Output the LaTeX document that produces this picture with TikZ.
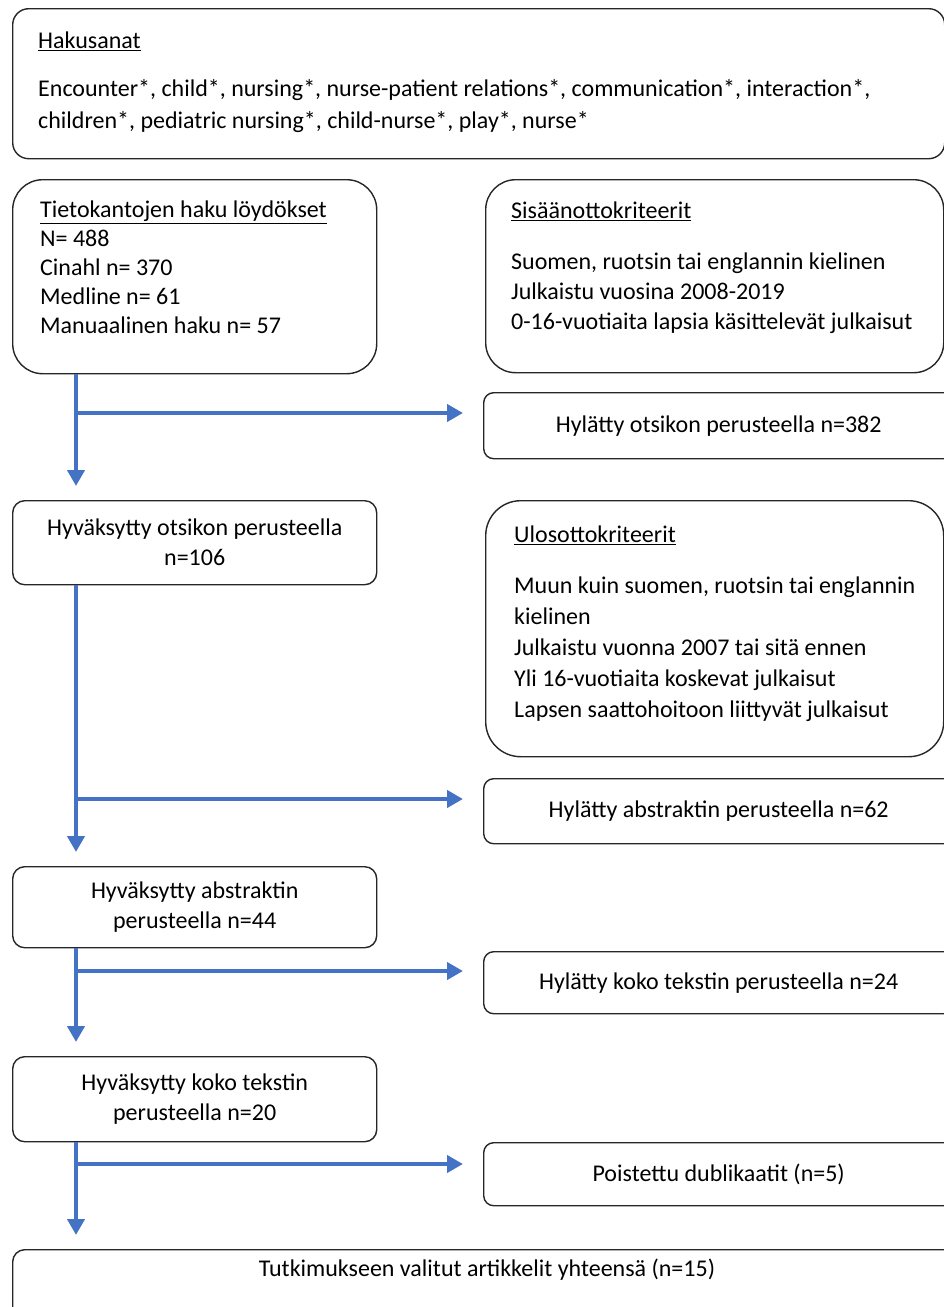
\documentclass[tikz,border=0pt]{standalone}
\usepackage{fontspec}
\setmainfont{Carlito}
\usetikzlibrary{arrows.meta,positioning,calc}
\definecolor{flowblue}{RGB}{68,114,196}

\begin{document}
\begin{tikzpicture}[x=1pt, y=-1pt,
  every node/.style={inner sep=0pt, font=\fontsize{24}{30}\selectfont},
  box/.style={draw=black!85, line width=1.4pt, anchor=north west, align=center},
  txt/.style={anchor=north west, align=left, font=\fontsize{24}{#1}\selectfont},
  flow/.style={draw=flowblue, line width=4pt, -{Triangle[length=16pt, width=17pt]}}
]
\useasboundingbox (0,0) rectangle (944,1307);
\clip (0,0) rectangle (944,1307);

% search words
\node[box, rounded corners=16pt, minimum width=932pt, minimum height=150pt] (keys) at (12,8) {};
\node[txt=30] (keystitle) at (38,32) {\underline{Hakusanat}};
\node[txt=32] (keyslist) at (38,79) {Encounter*, child*, nursing*, nurse-patient relations*, communication*, interaction*,\\children*, pediatric nursing*, child-nurse*, play*, nurse*};

% database search and inclusion criteria
\node[box, rounded corners=30pt, minimum width=364pt, minimum height=194pt] (haku) at (12,179) {};
\node[txt=29] (hakutext) at (40,201) {\underline{Tietokantojen haku löydökset}\\N= 488\\Cinahl n= 370\\Medline n= 61\\Manuaalinen haku n= 57};
\node[box, rounded corners=30pt, minimum width=458pt, minimum height=193pt] (sisaan) at (485,179) {};
\node[txt=30] (sisaantitle) at (511,202) {\underline{Sisäänottokriteerit}};
\node[txt=30] (sisaantext) at (511,253) {Suomen, ruotsin tai englannin kielinen\\Julkaistu vuosina 2008-2019\\0-16-vuotiaita lapsia käsittelevät julkaisut};

% title screening
\node[box, rounded corners=10pt, minimum width=470pt, minimum height=66pt] (hylots) at (483,392) {Hylätty otsikon perusteella n=382};
\node[box, rounded corners=12pt, minimum width=364pt, minimum height=84pt] (hyvots) at (12,500) {Hyväksytty otsikon perusteella\\n=106};

% exclusion criteria
\node[box, rounded corners=35pt, minimum width=458pt, minimum height=256pt] (ulos) at (485,500) {};
\node[txt=30] (ulostitle) at (514,526) {\underline{Ulosottokriteerit}};
\node[txt=31] (ulostext) at (514,577) {Muun kuin suomen, ruotsin tai englannin\\kielinen\\Julkaistu vuonna 2007 tai sitä ennen\\Yli 16-vuotiaita koskevat julkaisut\\Lapsen saattohoitoon liittyvät julkaisut};

% abstract and full text screening
\node[box, rounded corners=10pt, minimum width=470pt, minimum height=65pt] (hylabs) at (483,778) {Hylätty abstraktin perusteella n=62};
\node[box, rounded corners=12pt, minimum width=364pt, minimum height=81pt] (hyvabs) at (12,866) {Hyväksytty abstraktin\\perusteella n=44};
\node[box, rounded corners=10pt, minimum width=470pt, minimum height=62pt] (hylkoko) at (483,951) {Hylätty koko tekstin perusteella n=24};
\node[box, rounded corners=12pt, minimum width=364pt, minimum height=85pt] (hyvkoko) at (12,1056) {Hyväksytty koko tekstin\\perusteella n=20};
\node[box, rounded corners=10pt, minimum width=470pt, minimum height=63pt] (poist) at (483,1142) {Poistettu dublikaatit (n=5)};
\node[box, rounded corners=12pt, minimum width=950pt, minimum height=80pt] (final) at (12,1249) {};
\node (finaltext) at (487,1270) {Tutkimukseen valitut artikkelit yhteensä (n=15)};

% connectors
\coordinate (trunk) at (76,0);
\coordinate (b1) at (76,413);
\coordinate (b2) at (76,799);
\coordinate (b3) at (76,971);
\coordinate (b4) at (76,1164);
\draw[flow, shorten >=14pt] (haku.south -| trunk) -- (hyvots.north -| trunk);
\draw[flow, shorten >=20pt] (b1) -- (b1 -| hylots.west);
\draw[flow, shorten >=14pt] (hyvots.south -| trunk) -- (hyvabs.north -| trunk);
\draw[flow, shorten >=20pt] (b2) -- (b2 -| hylabs.west);
\draw[flow, shorten >=14pt] (hyvabs.south -| trunk) -- (hyvkoko.north -| trunk);
\draw[flow, shorten >=20pt] (b3) -- (b3 -| hylkoko.west);
\draw[flow, shorten >=14pt] (hyvkoko.south -| trunk) -- (final.north -| trunk);
\draw[flow, shorten >=20pt] (b4) -- (b4 -| poist.west);
\end{tikzpicture}
\end{document}
